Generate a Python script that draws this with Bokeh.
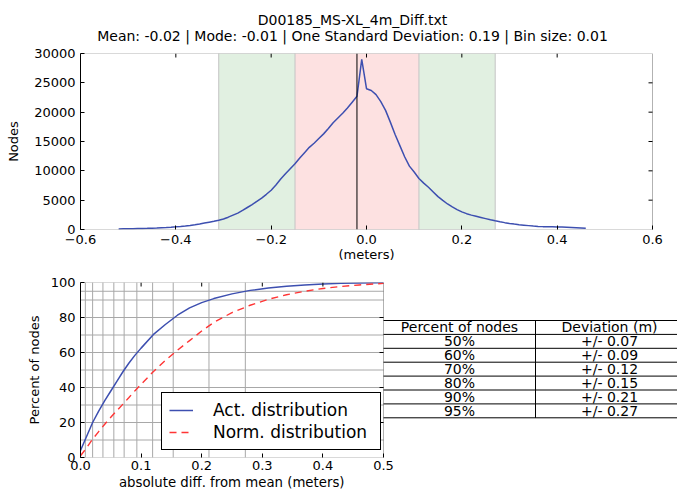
import numpy as np
from bokeh.plotting import figure
from bokeh.layouts import column
from bokeh.models import (Range1d, FixedTicker, CustomJSTickFormatter, Span,
                          BoxAnnotation, Title, Legend, LegendItem)
from bokeh.embed import file_html
from bokeh.resources import INLINE
from bokeh.core.properties import value

# ---------------- data ----------------
file_name = "D00185_MS-XL_4m_Diff.txt"
mean_val = -0.02
mode_val = -0.01
std_val = 0.19
bin_size = 0.01
bin_start = -0.52

hist_counts = [
    100, 110, 120, 140, 160, 180, 200, 230, 260, 300,
    340, 390, 450, 520, 600, 700, 820, 950, 1100, 1250,
    1400, 1580, 1800, 2100, 2450, 2800, 3250, 3750, 4250, 4800,
    5350, 6000, 6700, 7600, 8600, 9500, 10350, 11200, 12200, 13100,
    14000, 14700, 15500, 16300, 17200, 18200, 19000, 19800, 20700, 21700,
    22700, 29000,
    24000, 23700, 23000, 21800, 20300, 18300, 16200, 14300, 12400, 10800,
    9800, 8700, 7900, 7200, 6400, 5600, 4950, 4350, 3850, 3400,
    3000, 2700, 2450, 2250, 2050, 1850, 1650, 1480, 1320, 1170,
    1040, 920, 820, 740, 660, 580, 530, 490, 470, 455,
    440, 410, 380, 340, 300, 260, 220,
]

band_inner = [-0.15, 0.11]
band_outer = [-0.31, 0.27]

up_x_ticks = [-0.6, -0.4, -0.2, 0.0, 0.2, 0.4, 0.6]
up_y_ticks = [0, 5000, 10000, 15000, 20000, 25000, 30000]

dev_x = [0, 0.01, 0.02, 0.03, 0.04, 0.05, 0.06, 0.07, 0.08, 0.09, 0.10, 0.12, 0.14,
         0.16, 0.18, 0.20, 0.22, 0.25, 0.28, 0.31, 0.34, 0.37, 0.40, 0.43, 0.46, 0.49, 0.50]
act_pct = [4, 12, 20, 26.5, 32.5, 38, 43.5, 49, 54, 58.5, 62.5, 70.2, 76,
           81.3, 85.5, 88.5, 90.8, 93.5, 95.5, 96.8, 97.8, 98.6, 99.1, 99.5, 99.7, 99.9, 100]
norm_pct = [1, 5.5, 10.5, 14.8, 19, 23, 26.8, 30.5, 34.3, 38.2, 41.8, 49, 55.5,
            61.3, 66.8, 72.3, 77.2, 82.8, 87, 90.4, 93, 95, 96.6, 97.7, 98.6, 99.3, 99.5]

grid_pct = [10, 20, 30, 40, 50, 60, 70, 80, 90, 95]
grid_dev = [0.008, 0.02, 0.037, 0.055, 0.072, 0.093, 0.119, 0.153, 0.212, 0.272]

low_x_ticks = [0.0, 0.1, 0.2, 0.3, 0.4, 0.5]
low_y_ticks = [0, 20, 40, 60, 80, 100]

table_header = ["Percent of nodes", "Deviation (m)"]
table_pct = [50, 60, 70, 80, 90, 95]
table_dev = [0.07, 0.09, 0.12, 0.15, 0.21, 0.27]

# ---------------- style ----------------
FONT = "DejaVu Sans"
TICK_FS = "13px"
BLUE = "#3d4fb0"
RED = "#ff3535"
W = 677
TICK_PX = 4

# approximate DejaVu Sans advance widths (em) used to centre below-axis titles
_EM = {" ": .318, "-": .361, ".": .318, ":": .337, "|": .337, "_": .5, "(": .39, ")": .39,
       "a": .613, "b": .635, "d": .635, "e": .615, "f": .352, "i": .278, "m": .974,
       "n": .634, "o": .612, "r": .411, "s": .521, "t": .392, "u": .634, "l": .278}


def text_width(s, px):
    return sum(_EM.get(c, .636) for c in s) * px


def style_axis(ax, ticks, code):
    ax.ticker = FixedTicker(ticks=ticks)
    ax.formatter = CustomJSTickFormatter(code=code)
    ax.major_tick_in = TICK_PX
    ax.major_tick_out = 0
    ax.minor_tick_in = 0
    ax.minor_tick_out = 0
    ax.major_tick_line_color = "black"
    ax.major_label_text_font = FONT
    ax.major_label_text_font_size = TICK_FS
    ax.major_label_text_color = "black"
    ax.major_label_standoff = 5
    ax.axis_label_text_font = FONT
    ax.axis_label_text_font_size = "13px"
    ax.axis_label_text_font_style = "normal"
    ax.axis_label_text_color = "black"


FMT1 = "return (tick < 0 ? '\u2212' : '') + Math.abs(tick).toFixed(1);"
FMT0 = "return tick.toFixed(0);"

UP_L, UP_R, UP_T, UP_B = 80, 652, 53, 229

# ---------------- title strip (pixel coordinates) ----------------
H0 = 47
top = figure(width=W, height=H0, output_backend="svg", toolbar_location=None, title=None,
             x_range=Range1d(UP_L, W), y_range=Range1d(H0, 0),
             min_border_left=UP_L, min_border_right=0, min_border_top=0, min_border_bottom=0,
             x_axis_location=None, y_axis_location=None)
top.grid.visible = False
top.outline_line_color = None
line2 = (f"Mean: {mean_val:.2f} | Mode: {mode_val:.2f} | One Standard Deviation: "
         f"{std_val:.2f} | Bin size: {bin_size:.2f}")
title_cx = 352
top.text(x=[title_cx, title_cx], y=[19, 35.5], text=[file_name, line2], text_align="center",
         text_baseline="middle", text_font=value(FONT), text_font_size="14px",
         text_color="black")

# ---------------- upper histogram ----------------
H1 = 264 - H0
ux0, ux1 = up_x_ticks[0], up_x_ticks[-1]
uy0, uy1 = up_y_ticks[0], up_y_ticks[-1]
up_frame_px = W - UP_L
ux_end = ux0 + (ux1 - ux0) * up_frame_px / (UP_R - UP_L)
y_per_px = (uy1 - uy0) / (UP_B - UP_T)
x_per_px_up = (ux1 - ux0) / (UP_R - UP_L)
axes_half = (UP_R - UP_L) / 2

up = figure(width=W, height=H1, output_backend="svg", toolbar_location=None, title=None,
            x_range=Range1d(ux0, ux_end), y_range=Range1d(uy0, uy1),
            min_border_left=UP_L, min_border_right=0,
            min_border_top=UP_T - H0, min_border_bottom=H0 + H1 - UP_B)
up.grid.visible = False
up.outline_line_color = None
up.background_fill_color = "white"

style_axis(up.xaxis[0], up_x_ticks, FMT1)
style_axis(up.yaxis[0], up_y_ticks, FMT0)
up.xaxis[0].axis_line_color = None
up.yaxis[0].axis_label = "Nodes"
up.yaxis[0].axis_label_standoff = 10

GREEN_FILL = "#e1f0e1"
PINK_FILL = "#fde1e1"
up.add_layout(BoxAnnotation(left=band_outer[0], right=band_inner[0], fill_color=GREEN_FILL,
                            fill_alpha=1, line_color=None, level="underlay"))
up.add_layout(BoxAnnotation(left=band_inner[1], right=band_outer[1], fill_color=GREEN_FILL,
                            fill_alpha=1, line_color=None, level="underlay"))
up.add_layout(BoxAnnotation(left=band_inner[0], right=band_inner[1], fill_color=PINK_FILL,
                            fill_alpha=1, line_color=None, level="underlay"))
for edge in band_outer + band_inner:
    up.add_layout(Span(location=edge, dimension="height", line_color="#c4c4c4",
                       line_width=1, level="underlay"))

bin_x = [round(bin_start + i * bin_size, 2) for i in range(len(hist_counts))]
up.line(bin_x, hist_counts, line_color=BLUE, line_width=1.5)
up.add_layout(Span(location=mean_val, dimension="height", line_color="black", line_width=1))

# frame of the histogram axes
up.add_layout(BoxAnnotation(left=ux0, right=ux1, bottom=uy0, top=uy1, fill_color=None,
                            fill_alpha=0, line_color="black", line_width=1, level="overlay"))

# inward ticks on top and right edges (drawn as short segments)
dy_up = TICK_PX * y_per_px
dx_up = TICK_PX * x_per_px_up
tx = up_x_ticks[1:-1]
up.segment(x0=tx, x1=tx, y0=[uy1 - dy_up] * len(tx), y1=[uy1] * len(tx),
           line_color="black", line_width=1)
ty = up_y_ticks[1:-1]
up.segment(x0=[ux1 - dx_up] * len(ty), x1=[ux1] * len(ty), y0=ty, y1=ty,
           line_color="black", line_width=1)

meters = "(meters)"
up.add_layout(Title(text=meters, align="left", offset=axes_half - text_width(meters, 13) / 2,
                    vertical_align="top", text_font=FONT, text_font_size="13px",
                    text_font_style="normal", text_color="black", standoff=0), "below")

# ---------------- lower cumulative + table ----------------
LO_L, LO_R, LO_T, LO_B = 80, 383, 282, 457
H2 = 492 - H0 - H1
FRAME_PX = W - LO_L
PLOT_PX = LO_R - LO_L
x_end = low_x_ticks[-1] * FRAME_PX / PLOT_PX
low = figure(width=W, height=H2, output_backend="svg", toolbar_location=None, title=None,
             x_range=Range1d(0, x_end), y_range=Range1d(0, 100),
             min_border_left=LO_L, min_border_right=0,
             min_border_top=LO_T - H0 - H1, min_border_bottom=492 - LO_B)
low.grid.visible = False
low.outline_line_color = None
low.extra_x_ranges = {"px": Range1d(LO_L, W)}
low.extra_y_ranges = {"px": Range1d(LO_B, LO_T)}

style_axis(low.xaxis[0], low_x_ticks, FMT1)
style_axis(low.yaxis[0], low_y_ticks, FMT0)
low.xaxis[0].axis_line_color = None
low.xaxis[0].major_label_standoff = 3
low.yaxis[0].axis_label = "Percent of nodes"
low.yaxis[0].axis_label_standoff = 6

xlab = "absolute diff. from mean (meters)"
low.add_layout(Title(text=xlab, align="left",
                     offset=PLOT_PX / 2 - text_width(xlab, 13.3) / 2,
                     text_font=FONT, text_font_size="13.3px", text_font_style="normal",
                     text_color="black", standoff=0), "below")

GRID_C = "#a8a8a8"
n_h = len(grid_pct)
low.segment(x0=[0] * n_h, x1=[low_x_ticks[-1]] * n_h, y0=grid_pct, y1=grid_pct,
            line_color=GRID_C, line_width=1)
n_v = len(grid_dev)
low.segment(x0=grid_dev, x1=grid_dev, y0=[0] * n_v, y1=[100] * n_v,
            line_color=GRID_C, line_width=1)

r_act = low.line(dev_x, act_pct, line_color=BLUE, line_width=1.5)
r_norm = low.line(dev_x, norm_pct, line_color=RED, line_width=1.4, line_dash="7 5")

# plot frame
low.add_layout(BoxAnnotation(left=0, right=low_x_ticks[-1], bottom=0, top=100, fill_color=None,
                             fill_alpha=0, line_color="black", line_width=1, level="overlay"))
# inward ticks on top and right edges
dx_lo = TICK_PX * x_end / FRAME_PX
dy_lo = TICK_PX * 100 / (LO_B - LO_T)
rt = low_y_ticks[1:-1]
low.segment(x0=[low_x_ticks[-1] - dx_lo] * len(rt), x1=[low_x_ticks[-1]] * len(rt), y0=rt, y1=rt,
            line_color="black", line_width=1)
tt = low_x_ticks[1:-1]
low.segment(x0=tt, x1=tt, y0=[100 - dy_lo] * len(tt), y1=[100] * len(tt),
            line_color="black", line_width=1)

legend = Legend(items=[LegendItem(label="Act. distribution", renderers=[r_act]),
                       LegendItem(label="Norm. distribution", renderers=[r_norm])],
                location=(81, 7), label_text_font=FONT, label_text_font_size="17px",
                label_text_color="black", border_line_color="black", border_line_width=1,
                border_line_alpha=1, background_fill_color="white", background_fill_alpha=1,
                padding=7, spacing=2, glyph_width=24, glyph_height=20, label_height=20,
                label_width=160, label_standoff=20, margin=0)
low.add_layout(legend)

# table (pixel coordinates of the lower figure)
row_h = 13.9
tab_top = 320
n_rows = len(table_pct) + 1
tab_left, tab_mid, tab_right = LO_R, 535, W + 10
ys = [tab_top + k * row_h for k in range(n_rows + 1)]
low.segment(x0=[tab_left] * len(ys), x1=[tab_right] * len(ys), y0=ys, y1=ys,
            line_color="black", line_width=1, x_range_name="px", y_range_name="px")
low.segment(x0=[tab_mid], x1=[tab_mid], y0=[ys[0]], y1=[ys[-1]],
            line_color="black", line_width=1, x_range_name="px", y_range_name="px")
col1 = [table_header[0]] + [f"{p}%" for p in table_pct]
col2 = [table_header[1]] + [f"+/- {d:.2f}" for d in table_dev]
cy = [tab_top + (k + 0.5) * row_h for k in range(n_rows)]
low.text(x=[(tab_left + tab_mid) / 2] * n_rows, y=cy, text=col1, text_align="center",
         text_baseline="middle", text_font=value(FONT), text_font_size="14px",
         text_color="black", x_range_name="px", y_range_name="px")
low.text(x=[609] * n_rows, y=cy, text=col2, text_align="center",
         text_baseline="middle", text_font=value(FONT), text_font_size="14px",
         text_color="black", x_range_name="px", y_range_name="px")

layout = column(top, up, low, spacing=0)
open("out.html", "w").write(file_html(layout, INLINE))
